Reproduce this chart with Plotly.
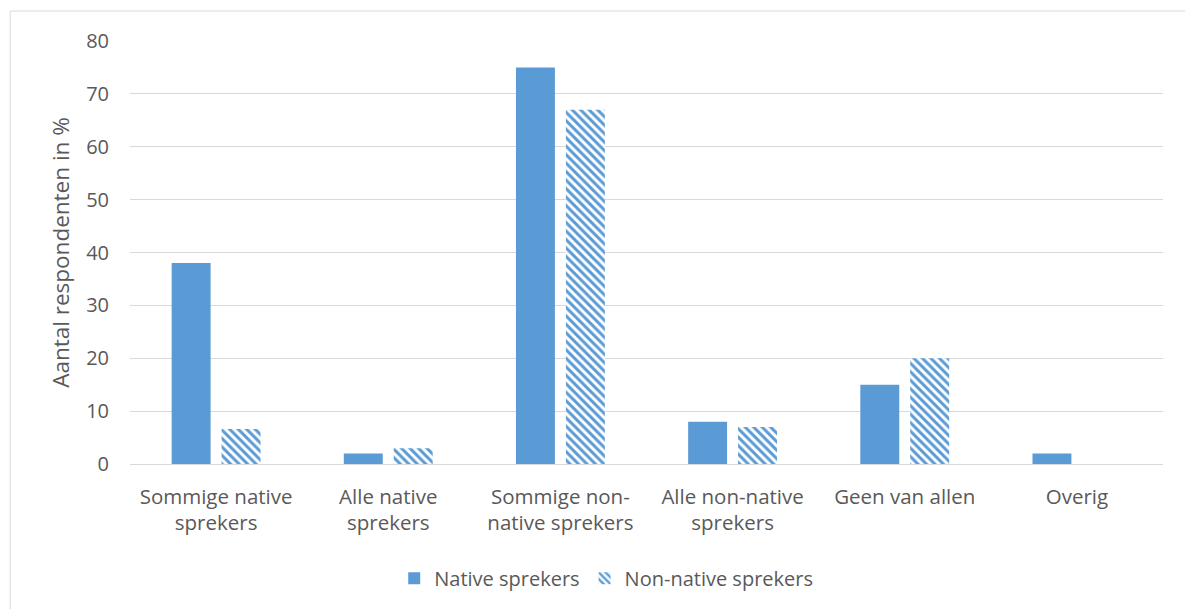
import plotly.graph_objects as go

categories = [
    "Sommige native<br>sprekers",
    "Alle native<br>sprekers",
    "Sommige non-<br>native sprekers",
    "Alle non-native<br>sprekers",
    "Geen van allen",
    "Overig",
]
native_values = [38, 2, 75, 8, 15, 2]
non_native_values = [6.6, 3, 67, 7, 20, 0]
y_ticks = [0, 10, 20, 30, 40, 50, 60, 70, 80]

BLUE = "#5B9BD5"
GRID = "#D9D9D9"
TEXT = "#595959"
FONT = "Open Sans"

fig = go.Figure()
fig.add_trace(go.Bar(
    name="Native sprekers",
    x=categories,
    y=native_values,
    marker=dict(color=BLUE, line=dict(width=0)),
))
fig.add_trace(go.Bar(
    name="Non-native sprekers",
    x=categories,
    y=non_native_values,
    marker=dict(
        color="white",
        line=dict(width=0),
        pattern=dict(shape="\\", fgcolor=BLUE, bgcolor="white",
                     size=6, solidity=0.5, fillmode="replace"),
    ),
))

fig.update_layout(
    width=1185,
    height=609,
    margin=dict(l=130, r=22, t=41, b=144),
    paper_bgcolor="white",
    plot_bgcolor="white",
    barmode="group",
    bargap=0.42,
    bargroupgap=0.22,
    font=dict(family=FONT, size=20, color=TEXT),
    showlegend=True,
    legend=dict(
        orientation="h",
        x=0.461, xanchor="center",
        y=-0.267, yanchor="middle",
        font=dict(family=FONT, size=20, color=TEXT),
        itemwidth=30,
        traceorder="normal",
    ),
    xaxis=dict(
        showgrid=False,
        showline=True,
        linecolor=GRID,
        linewidth=1,
        ticks="",
        tickfont=dict(family=FONT, size=20.5, color=TEXT),
        ticklabelstandoff=14,
    ),
    yaxis=dict(
        range=[0, 80],
        tickvals=y_ticks,
        showgrid=True,
        gridcolor=GRID,
        gridwidth=1,
        zeroline=False,
        showline=False,
        ticks="",
        ticklabelstandoff=20,
        tickfont=dict(family=FONT, size=20, color=TEXT),
        title=dict(text="Aantal respondenten in %",
                   font=dict(family=FONT, size=22.5, color=TEXT),
                   standoff=10),
    ),
    shapes=[
        dict(type="rect", xref="paper", yref="paper",
             x0=-0.116, x1=1.5, y0=-1.0, y1=1.0708,
             line=dict(color=GRID, width=1), layer="below"),
    ],
)

fig.write_html("out.html")
